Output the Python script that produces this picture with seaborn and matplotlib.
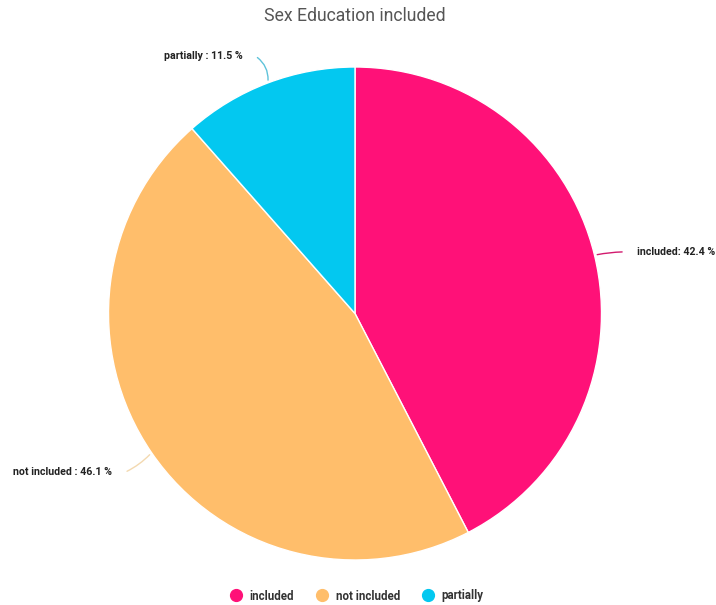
import matplotlib
matplotlib.use("Agg")
import matplotlib.pyplot as plt
from matplotlib.lines import Line2D
import seaborn as sns
import numpy as np

categories = ["included", "not included", "partially"]
shares = [42.4, 46.1, 11.5]
label_texts = ["included: 42.4 %", "not included : 46.1 %", "partially : 11.5 %"]
colors = ["#FF1178", "#FFBE6B", "#03C8F0"]

sns.set_theme(style="white")
plt.rcParams["font.family"] = ["Roboto", "DejaVu Sans"]

W, H = 716, 605
cx, cy, R = 355, 313.5, 246.5
fig = plt.figure(figsize=(W / 100, H / 100), dpi=100)
ax = fig.add_axes([0, 0, 1, 1])

wedges, _ = ax.pie(shares, colors=colors, startangle=90, counterclock=False,
                   radius=1.0, wedgeprops=dict(edgecolor="white", linewidth=1.0))
ax.set_aspect("auto")
ax.set_xlim(-cx / R, (W - cx) / R)
ax.set_ylim(-(H - cy) / R, cy / R)
ax.axis("off")

# label positions (axes units) and leader line colours
label_pos = [(1.145, 0.25), (-0.985, -0.645), (-0.455, 1.045)]
line_cols = ["#D21A6E", "#F3D9B0", "#5FC3DA"]
has = ["left", "right", "right"]
rads = [0.05, 0.1, -0.3]
for w, txt, (tx, ty), lc, ha, rad in zip(wedges, label_texts, label_pos, line_cols, has, rads):
    ang = np.deg2rad((w.theta1 + w.theta2) / 2)
    x0, y0 = np.cos(ang), np.sin(ang)
    ax.annotate("", xy=(x0, y0), xytext=(tx + (-0.05 if ha == "left" else 0.05), ty),
                arrowprops=dict(arrowstyle="-", color=lc, lw=1.0,
                                connectionstyle=f"arc3,rad={rad}"))
    ax.text(tx, ty, txt, ha=ha, va="center", fontsize=7.7, fontweight="bold", color="#222222")

fig.text(cx / W, 1 - 16 / H, "Sex Education included", ha="center", va="center",
         fontsize=12.7, color="#555555")

handles = [Line2D([0], [0], marker="o", linestyle="", markersize=8.5,
                  markerfacecolor=c, markeredgecolor=c) for c in colors]
leg = fig.legend(handles, categories, loc="center", bbox_to_anchor=(354 / W, 1 - 596 / H),
                 ncol=3, frameon=False, fontsize=8.3, handletextpad=0.15, columnspacing=1.45)
for t in leg.get_texts():
    t.set_fontweight("bold")
    t.set_color("#333333")

fig.savefig("out.png", dpi=100, facecolor="white")
